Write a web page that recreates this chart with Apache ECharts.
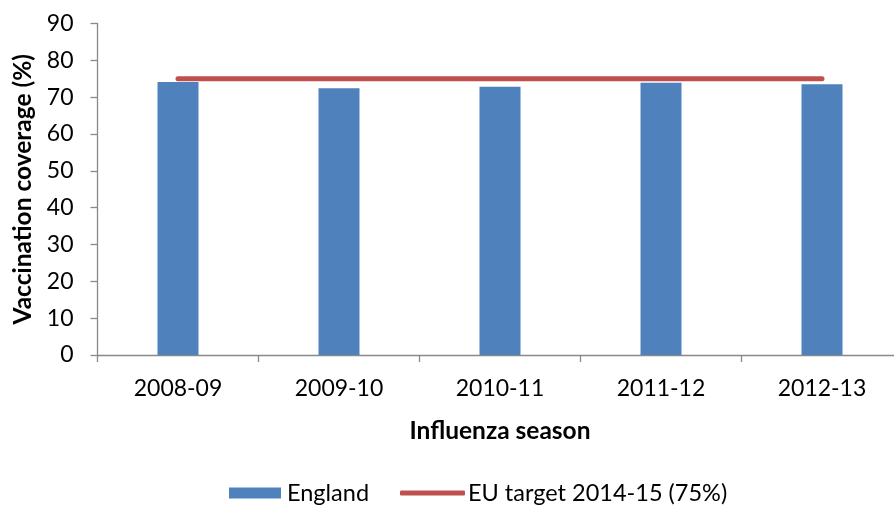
<!DOCTYPE html>
<html><head><meta charset="utf-8">
<script src="https://cdn.jsdelivr.net/npm/echarts@6/dist/echarts.min.js"></script>
<style>html,body{margin:0;padding:0;background:#fff;overflow:hidden}#c{width:912px;height:505px}</style>
</head><body><div id="c"></div>
<script>
const categories = ['2008-09','2009-10','2010-11','2011-12','2012-13'];
const england = [74.1, 72.4, 72.8, 73.9, 73.5];
const euTarget = [75, 75, 75, 75, 75];
const yTicks = [0,10,20,30,40,50,60,70,80,90];

const font = 'Lato, "Open Sans", sans-serif';
const chart = echarts.init(document.getElementById('c'));
chart.setOption({
  animation: false,
  textStyle: {fontFamily: font},
  grid: {left: 97.5, top: 23.5, width: 805, height: 331.5, containLabel: false},
  legend: [
    {
      left: 224, top: 476, itemGap: 0, itemWidth: 52, itemHeight: 11,
      textStyle: {fontSize: 23.5, color: '#000', fontFamily: font, padding: [0, 0, 0, 1]},
      data: [{name: 'England', icon: 'rect'}]
    },
    {
      left: 395, top: 476, itemGap: 0, itemWidth: 65, itemHeight: 5,
      textStyle: {fontSize: 23.5, color: '#000', fontFamily: font, padding: [0, 0, 0, -2]},
      data: [{name: 'EU target 2014-15 (75%)', icon: 'roundRect'}]
    }
  ],
  xAxis: {
    type: 'category', data: categories,
    name: 'Influenza season', nameLocation: 'middle', nameGap: 64,
    nameTextStyle: {fontSize: 24.5, fontWeight: 'bold', color: '#000', fontFamily: font},
    axisLine: {lineStyle: {color: '#898989', width: 1.3}},
    axisTick: {show: true, length: 7, alignWithLabel: false, lineStyle: {color: '#898989', width: 1.3}},
    axisLabel: {fontSize: 23, color: '#000', margin: 22, fontFamily: font}
  },
  yAxis: {
    type: 'value', min: 0, max: 90, interval: 10,
    name: 'Vaccination coverage (%)', nameLocation: 'middle', nameGap: 62, nameRotate: 90,
    nameTextStyle: {fontSize: 24.5, fontWeight: 'bold', color: '#000', fontFamily: font},
    axisLine: {show: true, lineStyle: {color: '#898989', width: 1.3}},
    axisTick: {show: true, length: 7, lineStyle: {color: '#898989', width: 1.3}},
    splitLine: {show: false},
    axisLabel: {fontSize: 23, color: '#000', margin: 24, fontFamily: font,
      formatter: v => yTicks.includes(v) ? String(v) : ''}
  },
  series: [
    {name: 'England', type: 'bar', data: england, barWidth: 41,
     itemStyle: {color: '#4F81BD'}},
    {name: 'EU target 2014-15 (75%)', type: 'line', data: euTarget, symbol: 'none',
     lineStyle: {color: '#C0504D', width: 5, cap: 'round'}, itemStyle: {color: '#C0504D'}}
  ]
});
</script></body></html>
